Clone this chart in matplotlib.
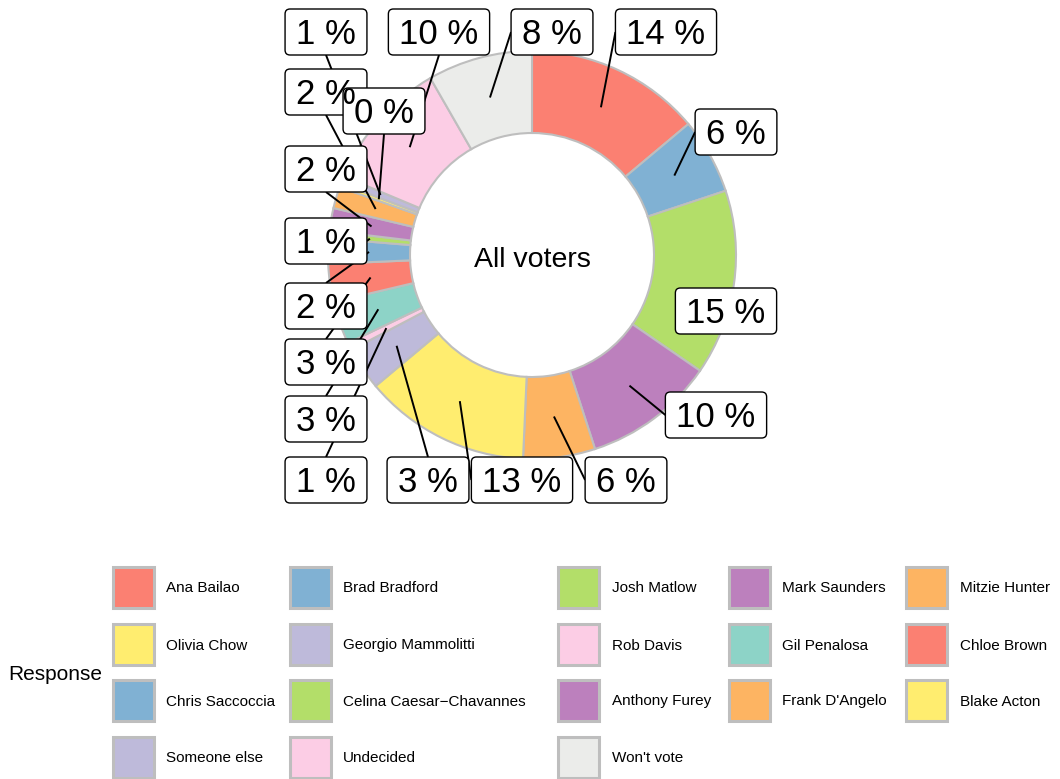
import numpy as np
import matplotlib
matplotlib.use("Agg")
import matplotlib.pyplot as plt
from matplotlib.patches import FancyBboxPatch, Rectangle

plt.rcParams['font.family'] = ['Liberation Sans', 'DejaVu Sans']

# poll shares, in the order the slices run clockwise from 12 o'clock
responses = ["Ana Bailao", "Brad Bradford", "Josh Matlow", "Mark Saunders", "Mitzie Hunter",
             "Olivia Chow", "Georgio Mammolitti", "Rob Davis", "Gil Penalosa", "Chloe Brown",
             "Chris Saccoccia", "Celina Caesar\u2212Chavannes", "Anthony Furey", "Frank D'Angelo",
             "Blake Acton", "Someone else", "Undecided", "Won't vote"]
shares = [13.9, 6.0, 14.7, 10.4, 5.7, 13.2, 3.4, 0.6, 3.4, 3.0, 2.0, 0.6, 1.8, 1.7, 0.3, 0.6, 10.4, 8.3]
colours = ["#FB8072", "#80B1D3", "#B3DE69", "#BC80BD", "#FDB462",
           "#FFED6F", "#BEBADA", "#FCCDE5", "#8DD3C7", "#FB8072",
           "#80B1D3", "#B3DE69", "#BC80BD", "#FDB462", "#FFED6F",
           "#BEBADA", "#FCCDE5", "#EBECEA"]

# where the repelled labels ended up (pixels from the top-left corner)
label_x = [666, 736, 726, 716, 626, 522, 428, 326, 326, 326, 326, 326, 326, 326, 384, 326, 439, 552]
label_y = [32, 132, 311, 415, 480, 480, 480, 480, 419, 362, 306, 241, 169, 92, 111, 32, 32, 32]
# the 15 % label sits next to its slice, so no leader line
show_segment = [True, True, False] + [True] * 15

W, H = 1060, 779
fig = plt.figure(figsize=(W / 100, H / 100), dpi=100)
ax = fig.add_axes([0, 0, 1, 1])

cx, cy = 532, H - 255
r_out, r_in = 204, 122

wedges, _ = ax.pie(shares, colors=colours, startangle=90, counterclock=False,
                   radius=r_out, center=(cx, cy),
                   wedgeprops=dict(width=r_out - r_in, edgecolor="#BEBEBE", linewidth=1.5))
ax.set_xlim(0, W)
ax.set_ylim(0, H)
ax.set_aspect("equal")
ax.axis("off")

ax.text(cx, H - 267, "All voters", fontsize=20.5, ha="center", va="baseline")

# labels + leader segments (segment goes to the nearest edge midpoint of the box)
r_mid = (r_out + r_in) / 2
fs = 25
cap = 0.716 * fs * 100 / 72
bh = 46
renderer = fig.canvas.get_renderer()
for w, v, lx, ly, seg in zip(wedges, shares, label_x, label_y, show_segment):
    mid = np.deg2rad((w.theta1 + w.theta2) / 2)
    px, py = cx + r_mid * np.cos(mid), cy + r_mid * np.sin(mid)
    Y = H - ly
    t = ax.text(lx, Y - cap / 2, f"{round(v)} %", fontsize=fs, ha="center", va="baseline", zorder=6)
    bw = t.get_window_extent(renderer).width + 22
    ax.add_patch(FancyBboxPatch((lx - bw / 2, Y - bh / 2), bw, bh,
                                boxstyle="round,pad=0,rounding_size=5",
                                fc="white", ec="black", lw=1.0, zorder=5))
    if seg:
        ends = [(lx - bw / 2, Y), (lx + bw / 2, Y), (lx, Y + bh / 2), (lx, Y - bh / 2)]
        ex, ey = min(ends, key=lambda e: (e[0] - px) ** 2 + (e[1] - py) ** 2)
        ax.plot([px, ex], [py, ey], color="black", lw=1.4, zorder=3, solid_capstyle="butt")

# legend, filled row by row
key_x = [133.5, 310, 578.5, 749.5, 926.5]
key_y = [587, 644, 700, 757]
ks = 41
for i, (name, c) in enumerate(zip(responses, colours)):
    row, col = divmod(i, 5)
    kx, ky = key_x[col], H - key_y[row]
    ax.add_patch(Rectangle((kx - ks / 2, ky - ks / 2), ks, ks, fc=c, ec="#BEBEBE", lw=2.2))
    ax.text(kx + 33, ky - 5.5, name, fontsize=11, ha="left", va="baseline")

ax.text(8, H - 680, "Response", fontsize=15, ha="left", va="baseline")

fig.savefig("out.png", dpi=100)
